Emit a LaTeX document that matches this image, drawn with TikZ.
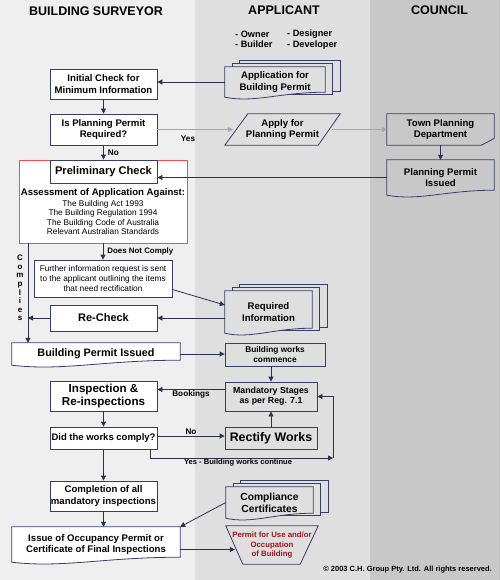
\documentclass[tikz,border=0pt]{standalone}
\usepackage{fontspec}
\setmainfont{Liberation Sans}
\usetikzlibrary{calc, arrows.meta, backgrounds, positioning}
\definecolor{laneA}{HTML}{EFEFEF}
\definecolor{laneB}{HTML}{DFDFDF}
\definecolor{laneC}{HTML}{C8C8C8}
\definecolor{edge}{HTML}{3B3B6B}
\definecolor{redline}{HTML}{FF4A4A}
\definecolor{permitred}{HTML}{A0141E}
\newcommand\fsz[2]{\fontsize{#1}{#2}\selectfont}
% wavy bottom of a document box
\newcommand\docoutline[2]{%
  \begin{pgfonlayer}{background}
    \filldraw[boxedge, fill=#2] (#1.north west) -- (#1.north east) -- ([yshift=5pt]#1.south east)
      .. controls ($(#1.south west)!0.55!(#1.south east)+(0,5pt)$) and ($(#1.south west)!0.3!(#1.south east)+(0,-6pt)$) .. (#1.south west) -- cycle;
  \end{pgfonlayer}}
% three stacked documents
\newcommand\stackoutline[2]{%
  \begin{pgfonlayer}{background}
    \foreach \k in {2,1}{
      \filldraw[boxedge, fill=#2] ([xshift=\k*7.5pt, yshift=\k*3pt]#1.north west) rectangle ([xshift=\k*7.5pt, yshift=\k*3pt]#1.south east);
    }
  \end{pgfonlayer}
  \docoutline{#1}{#2}}
\tikzset{
  boxedge/.style={draw=edge, line width=0.8pt},
  sbox/.style={boxedge, fill=white, inner sep=0pt, align=center, font=\fsz{9.6}{11.3}\bfseries},
  abox/.style={sbox, fill=laneB},
  shapetext/.style={inner sep=0pt, align=center, font=\fsz{9.6}{11.3}\bfseries},
  lbl/.style={font=\fsz{8.2}{10}\bfseries, inner sep=1pt},
  arr/.style={draw=edge!80!black, line width=0.8pt, -{Triangle[length=5pt,width=5pt]}},
  thinarr/.style={arr, draw=gray!70},
  lanehead/.style={font=\fsz{12.5}{14}\bfseries},
}
\begin{document}
\begin{tikzpicture}[x=1pt, y=-1pt]
  \useasboundingbox (0,0) rectangle (500,580);
  \begin{pgfonlayer}{background}
    \fill[laneA] (0,0) rectangle (195,580);
    \fill[laneB] (195,0) rectangle (370,580);
    \fill[laneC] (370,0) rectangle (500,580);
  \end{pgfonlayer}

  % lane titles
  \node[lanehead] (hsurv) at (96,11) {BUILDING SURVEYOR};
  \node[lanehead] (happ) at (284,10) {APPLICANT};
  \node[lanehead] (hcoun) at (439.5,10) {COUNCIL};
  \node[font=\fsz{9.2}{10.5}\bfseries, align=left, anchor=west, inner sep=0pt] (kindA) at (235,39.5) {- Owner\\- Builder};
  \node[font=\fsz{9.2}{10.5}\bfseries, align=left, anchor=west, inner sep=0pt] (kindB) at (287,39.5) {- Designer\\- Developer};

  % applicant and council side
  \node[shapetext, minimum width=100, minimum height=30] (app) at (275,82) {Application for\\Building Permit};
  \stackoutline{app}{laneB}
  \node[shapetext, minimum width=115, minimum height=31] (apply) at (282.5,129.5) {Apply for\\Planning Permit};
  \begin{pgfonlayer}{background}
    \filldraw[boxedge, fill=laneB] ([xshift=23pt]apply.north west) -- (apply.north east) -- ([xshift=-22pt]apply.south east) -- (apply.south west) -- cycle;
  \end{pgfonlayer}
  \node[shapetext, minimum width=107, minimum height=31] (town) at (440.5,129.5) {Town Planning\\Department};
  \begin{pgfonlayer}{background}
    \filldraw[boxedge, fill=laneC] (town.north west) -- (town.north east) -- ([yshift=7pt]town.south east)
      .. controls ([xshift=-5pt, yshift=4pt]town.south east) .. ([xshift=-13pt]town.south east) -- (town.south west) -- cycle;
  \end{pgfonlayer}
  \node[shapetext, minimum width=107, minimum height=35] (ppi) at (440.5,177.5) {Planning Permit\\Issued};
  \docoutline{ppi}{laneC}

  % surveyor side
  \node[sbox, minimum width=107, minimum height=30] (init) at (103.5,84) {Initial Check for\\Minimum Information};
  \node[sbox, minimum width=107, minimum height=31] (isplan) at (103.5,129.5) {Is Planning Permit\\Required?};
  \node[draw=redline, line width=0.8pt, fill=white, minimum width=168, minimum height=83, inner sep=0pt] (assessbox) at (103,201.5) {};
  \node[sbox, minimum width=107, minimum height=23, font=\fsz{11.1}{13}\bfseries] (prelim) at (103.5,171.5) {Preliminary Check};
  \node[font=\fsz{9.6}{11}\bfseries, inner sep=0pt] (assesshead) at (103,193) {Assessment of Application Against:};
  \node[font=\fsz{8.3}{9.5}, align=center, inner sep=0pt, below=2.5pt of assesshead] (assesslist) {The Building Act 1993\\The Building Regulation 1994\\The Building Code of Australia\\Relevant Australian Standards};
  \node[sbox, minimum width=138, minimum height=37, font=\fsz{8.3}{10}] (further) at (103,278.5) {Further information request is sent\\to the applicant outlining the items\\that need rectification};
  \node[shapetext, minimum width=87, minimum height=42] (reqinfo) at (268.5,312) {Required\\Information};
  \stackoutline{reqinfo}{laneB}
  \node[sbox, minimum width=107, minimum height=26, font=\fsz{11}{13}\bfseries] (recheck) at (103.5,318) {Re-Check};
  \node[shapetext, minimum width=168, minimum height=22, font=\fsz{10.8}{12}\bfseries] (bpi) at (96,354) {Building Permit Issued};
  \docoutline{bpi}{white}
  \node[abox, minimum width=100, minimum height=23, font=\fsz{8.3}{10}\bfseries] (bwc) at (275,354.5) {Building works\\commence};
  \node[abox, minimum width=92, minimum height=29, font=\fsz{8.8}{10}\bfseries] (mand) at (271,396.5) {Mandatory Stages\\as per Reg. 7.1};
  \node[sbox, minimum width=107, minimum height=30, font=\fsz{11.6}{13}\bfseries] (insp) at (103.5,396) {Inspection \&\\Re-inspections};
  \node[sbox, minimum width=107, minimum height=22, font=\fsz{9.5}{11}\bfseries] (did) at (103.5,438) {Did the works comply?};
  \node[abox, minimum width=92, minimum height=22, font=\fsz{12.4}{14}\bfseries] (rectify) at (271,438) {Rectify Works};
  \node[sbox, minimum width=107, minimum height=30] (compl) at (103.5,496) {Completion of all\\mandatory inspections};
  \node[shapetext, minimum width=87, minimum height=31, font=\fsz{10.3}{12}\bfseries] (complc) at (269.5,502.5) {Compliance\\Certificates};
  \stackoutline{complc}{laneB}
  \node[shapetext, minimum width=168, minimum height=35] (issue) at (96,544.5) {Issue of Occupancy Permit or\\Certificate of Final Inspections};
  \docoutline{issue}{white}
  \node[shapetext, minimum width=92, minimum height=38, font=\fsz{7.8}{9.3}\bfseries, text=permitred] (permit) at (272,545) {Permit for Use and/or\\Occupation\\of Building};
  \begin{pgfonlayer}{background}
    \filldraw[boxedge, fill=laneB] (permit.north west) -- (permit.north east) -- ([xshift=-18pt]permit.south east) -- ([xshift=17pt]permit.south west) -- cycle;
  \end{pgfonlayer}

  % connectors
  \draw[arr] (app.west) -- (app.west -| init.east);
  \draw[arr] (init) -- (isplan);
  \draw[thinarr] (isplan.east) -- ([xshift=8pt]apply.west);
  \node[lbl] (yes) at (188,139) {Yes};
  \draw[thinarr] ([xshift=-8pt]apply.east) -- (town.west);
  \draw[arr] (town) -- (ppi);
  \draw[arr] (ppi.west) -- (ppi.west -| prelim.east);
  \draw[arr] (isplan) -- node[lbl, right=3pt] {No} (prelim);
  \draw[arr] (assessbox.south -| further.north) -- node[lbl, right=3pt, font=\fsz{7.9}{9}\bfseries] {Does Not Comply} (further.north);
  \draw[arr] ([yshift=-11pt]further.east) -- ([yshift=7pt]reqinfo.west);
  \draw[arr] (reqinfo.west |- recheck.east) -- (recheck.east);
  \coordinate (cpl) at (28,0);
  \draw[arr] (assessbox.south -| cpl) -- (bpi.north -| cpl);
  \draw[arr] (recheck.west) -- (recheck.west -| cpl);
  \node[font=\fsz{8}{8.6}\bfseries, align=center, inner sep=0pt] (compiles) at (20,288) {C\\o\\m\\p\\l\\i\\e\\s};
  \draw[arr] (bpi.east) -- (bpi.east -| bwc.west);
  \draw[arr] (bwc.south -| mand.north) -- (mand.north);
  \draw[arr] ([yshift=7pt]mand.west) -- node[lbl, below=0pt] {Bookings} ([yshift=7pt]mand.west -| insp.east);
  \draw[arr] (insp) -- (did);
  \draw[arr] ([yshift=2pt]did.east) -- node[lbl, above=0pt] {No} ([yshift=2pt]did.east -| rectify.west);
  \draw[arr] (rectify) -- (mand);
  \coordinate (ycorner) at (333,458);
  \draw[arr] ([xshift=-7pt]did.south east) |- node[lbl, pos=0.74, below=0pt, font=\fsz{7.6}{9}\bfseries] {Yes - Building works continue} (ycorner);
  \draw[arr] (ycorner) |- (mand.east);
  \draw[arr] (did) -- (compl);
  \draw[arr] (compl.south) -- (compl.south |- issue.north);
  \draw[arr] (complc.west) -- (issue.north east);
  \coordinate (issueout) at ([yshift=-5pt]issue.east);
  \draw[arr] (issueout) -- ([xshift=9pt]issueout -| permit.west);

  \node[font=\fsz{7.5}{9}\bfseries, anchor=east, inner sep=0pt] (copy) at (492,570) {© 2003 C.H. Group Pty. Ltd. All rights reserved.};
\end{tikzpicture}
\end{document}
